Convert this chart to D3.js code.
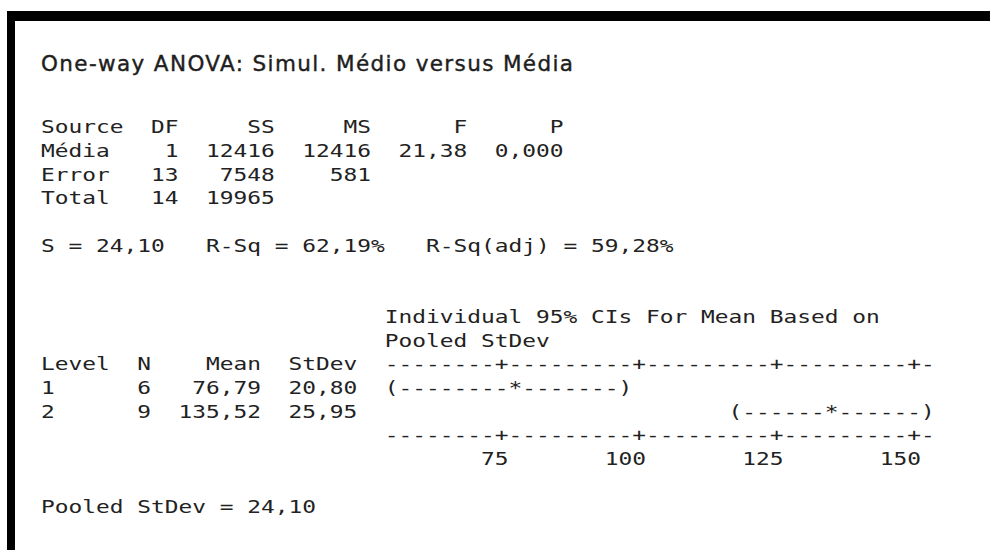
<!DOCTYPE html>
<html>
<head>
<meta charset="utf-8">
<script src="https://cdn.jsdelivr.net/npm/d3@7"></script>
<style>
  body { margin: 0; background: #fff; }
  text { white-space: pre; }
</style>
</head>
<body>
<div id="chart"></div>
<script>
// ANOVA table
var sources = ["Média", "Error", "Total"];
var dfs = [1, 13, 14];
var sss = [12416, 7548, 19965];
var mss = [12416, 581, null];
var fValues = [21.38, null, null];
var pValues = [0.000, null, null];

var sValue = 24.10, rSq = 62.19, rSqAdj = 59.28;

// per level summary + 95% CIs
var levels = ["1", "2"];
var counts = [6, 9];
var means = [76.79, 135.52];
var stdevs = [20.80, 25.95];
var ciLow = [55.5, 118.2];
var ciHigh = [98.0, 152.9];
var pooledStDev = 24.10;

var ticks = [75, 100, 125, 150];

var width = 990, height = 550;
var x0 = 41, cw = 13.75, lh = 23.7, top0 = 133.3;

var loc = d3.formatLocale({decimal: ",", thousands: ".", grouping: [3], currency: ["", ""]});
var f2 = loc.format(".2f"), f3 = loc.format(".3f"), fi = loc.format("d");

function rowY(r) { return top0 + r * lh; }
function colX(c) { return x0 + c * cw; }

var svg = d3.select("#chart")
  .append("svg")
    .attr("width", width)
    .attr("height", height);

svg.append("rect").attr("width", width).attr("height", height).attr("fill", "#fff");

// frame (top and left only)
svg.append("rect").attr("x", 7).attr("y", 11).attr("width", width - 7).attr("height", 10).attr("fill", "#000");
svg.append("rect").attr("x", 7).attr("y", 11).attr("width", 8).attr("height", height - 11).attr("fill", "#000");

svg.append("text")
    .attr("x", x0)
    .attr("y", 71)
    .attr("textLength", 532)
    .attr("lengthAdjust", "spacing")
    .style("font-family", "'DejaVu Sans', sans-serif")
    .style("font-size", "21.5px")
    .attr("fill", "#1e1e1e")
    .attr("stroke", "#1e1e1e")
    .attr("stroke-width", 0.4)
    .text("One-way ANOVA: Simul. Médio versus Média");

var g = svg.append("g")
    .style("font-family", "'DejaVu Sans Mono', monospace")
    .style("font-size", "18px")
    .attr("fill", "#222");

function mono(col, row, str) {
  g.append("text")
      .attr("x", colX(col))
      .attr("y", rowY(row))
      .attr("textLength", str.length * cw)
      .attr("lengthAdjust", "spacingAndGlyphs")
      .text(str);
}
function monoRight(endCol, row, str) {
  mono(endCol - str.length + 1, row, str);
}

// ANOVA table
mono(0, 0, "Source");
monoRight(9, 0, "DF");
monoRight(16, 0, "SS");
monoRight(23, 0, "MS");
monoRight(30, 0, "F");
monoRight(37, 0, "P");
sources.forEach(function(s, i) {
  var r = i + 1;
  mono(0, r, s);
  monoRight(9, r, fi(dfs[i]));
  monoRight(16, r, fi(sss[i]));
  if (mss[i] != null) monoRight(23, r, fi(mss[i]));
  if (fValues[i] != null) monoRight(30, r, f2(fValues[i]));
  if (pValues[i] != null) monoRight(37, r, f3(pValues[i]));
});

mono(0, 5, "S = " + f2(sValue) + "   R-Sq = " + f2(rSq) + "%   R-Sq(adj) = " + f2(rSqAdj) + "%");

// CI chart
var x = d3.scaleLinear()
    .domain([75, 150])
    .range([colX(33.5), colX(63.5)]);

function cell(v) { return Math.floor((x(v) - x0) / cw); }

var axisStart = 25, axisEnd = 64;
var tickCells = ticks.map(cell);
var axisStr = d3.range(axisStart, axisEnd + 1).map(function(c) {
  return tickCells.indexOf(c) >= 0 ? "+" : "-";
}).join("");

mono(axisStart, 8, "Individual 95% CIs For Mean Based on");
mono(axisStart, 9, "Pooled StDev");

mono(0, 10, "Level");
monoRight(7, 10, "N");
monoRight(15, 10, "Mean");
monoRight(22, 10, "StDev");
mono(axisStart, 10, axisStr);

levels.forEach(function(l, i) {
  var r = 11 + i;
  mono(0, r, l);
  monoRight(7, r, fi(counts[i]));
  monoRight(15, r, f2(means[i]));
  monoRight(22, r, f2(stdevs[i]));
  var lo = cell(ciLow[i]), m = cell(means[i]), hi = cell(ciHigh[i]);
  var ci = "(" + "-".repeat(m - lo - 1) + "*" + "-".repeat(hi - m - 1) + ")";
  mono(lo, r, ci);
});

mono(axisStart, 13, axisStr);
ticks.forEach(function(t) {
  monoRight(cell(t), 14, String(t));
});

mono(0, 16, "Pooled StDev = " + f2(pooledStDev));
</script>
</body>
</html>
